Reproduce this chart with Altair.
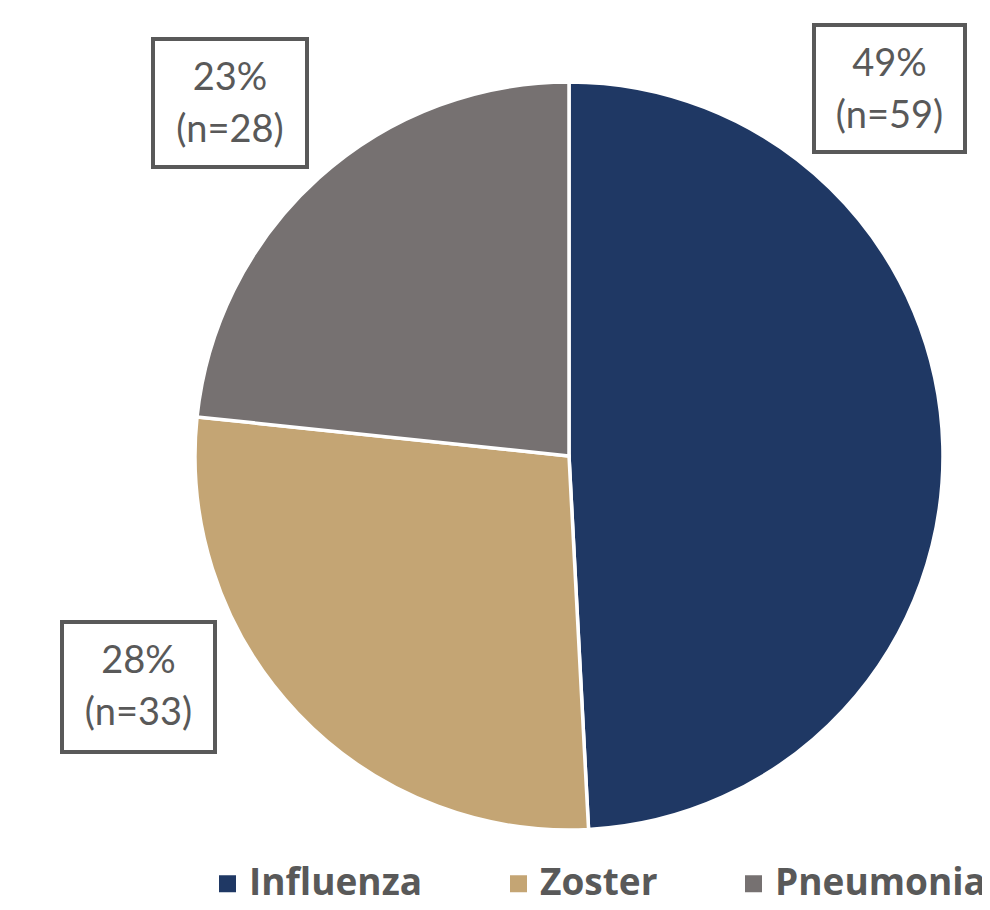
import altair as alt
import pandas as pd

# ---- data ----
categories = ["Influenza", "Zoster", "Pneumonia"]
counts = [59, 33, 28]
pct_labels = ["49%", "28%", "23%"]
n_labels = ["(n=59)", "(n=33)", "(n=28)"]

# ---- styling / layout ----
colors = ["#1F3864", "#C4A574", "#767171"]
W, H = 974, 894
CX, CY, R = 561, 448, 374
# annotation boxes (pixel coordinates in chart space): x, x2, y, y2
boxes = {
    "Influenza": (806, 957, 17, 144),
    "Zoster": (54, 207, 614, 744),
    "Pneumonia": (145, 299, 31, 159),
}
L1, L2 = 51, 103  # baselines offsets from box top

pie_df = pd.DataFrame({
    "category": categories,
    "count": counts,
    "idx": list(range(len(categories))),
})

lab_rows = []
for c, p, n in zip(categories, pct_labels, n_labels):
    x, x2, y, y2 = boxes[c]
    lab_rows.append({
        "category": c, "pct": p, "n": n,
        "bx": x, "bx2": x2, "by": y, "by2": y2,
        "tx": (x + x2) / 2, "ty1": y + L1, "ty2": y + L2,
    })
lab_df = pd.DataFrame(lab_rows)

pie = alt.Chart(pie_df).mark_arc(radius=R, stroke="white", strokeWidth=3.5).encode(
    theta=alt.Theta("count:Q", stack=True),
    order=alt.Order("idx:Q", sort="ascending"),
    color=alt.Color(
        "category:N",
        sort=categories,
        scale=alt.Scale(domain=categories, range=colors),
        legend=alt.Legend(
            orient="none", legendX=201, legendY=857, direction="horizontal",
            title=None, symbolType="square", symbolSize=289, symbolStrokeWidth=0,
            labelFontSize=37, labelFont="Open Sans", labelFontWeight="bold",
            labelColor="#595959", labelOffset=3, columnPadding=77, labelLimit=500,
        ),
    ),
    x=alt.value(CX),
    y=alt.value(CY),
)

rects = alt.Chart(lab_df).mark_rect(fill="white", stroke="#595959", strokeWidth=4).encode(
    x=alt.X("bx:Q", scale=None),
    x2="bx2:Q",
    y=alt.Y("by:Q", scale=None),
    y2="by2:Q",
)

t1 = alt.Chart(lab_df).mark_text(
    fontSize=38, font="Lato", color="#595959", align="center", baseline="alphabetic"
).encode(
    x=alt.X("tx:Q", scale=None), y=alt.Y("ty1:Q", scale=None), text="pct:N"
)

t2 = alt.Chart(lab_df).mark_text(
    fontSize=38, font="Lato", color="#595959", align="center", baseline="alphabetic"
).encode(
    x=alt.X("tx:Q", scale=None), y=alt.Y("ty2:Q", scale=None), text="n:N"
)

chart = alt.layer(pie, rects, t1, t2).properties(
    width=W, height=H, padding=0,
    autosize=alt.AutoSizeParams(type="none"),
).configure_view(stroke=None)

chart.save("out.html", embed_options={"renderer": "svg", "actions": False})
